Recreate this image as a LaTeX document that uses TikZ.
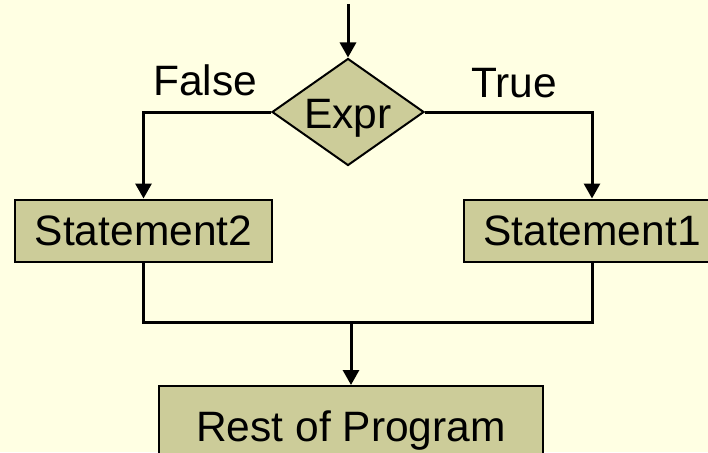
\documentclass[tikz,border=0pt]{standalone}
\usepackage{fontspec}
\setmainfont{Liberation Sans}
\usetikzlibrary{shapes.geometric,arrows.meta}
\definecolor{bgc}{HTML}{FFFFE3}
\definecolor{boxc}{HTML}{CCCC99}
\begin{document}
\begin{tikzpicture}[x=1pt,y=-1pt,
  lbl/.style={font=\fontsize{42.5}{50}\selectfont, text=black},
  procbox/.style={draw=black, line width=2pt, fill=boxc, minimum width=257pt, minimum height=62pt, inner sep=0pt, lbl},
  decbox/.style={diamond, aspect=1.42, draw=black, line width=2pt, fill=boxc, minimum width=152pt, minimum height=107pt, inner sep=0pt, lbl},
  conn/.style={line width=3pt, draw=black},
  arr/.style={conn, -{Triangle[width=16pt,length=15pt]}}]
\fill[bgc] (0,0) rectangle (708,452);
\useasboundingbox (0,0) rectangle (708,452);
\clip (0,0) rectangle (708,452);
\coordinate (start) at (348,4);
\node[decbox, text height=32pt, text depth=0pt] (expr) at (348,112) {Expr};
\node[procbox, text height=29pt, text depth=0pt] (s2) at (143.5,230.5) {Statement2};
\node[procbox, text height=29pt, text depth=0pt] (s1) at (592,230.5) {Statement1};
\node[procbox, minimum width=384pt, minimum height=80pt, text height=30pt, text depth=0pt] (rest) at (351,426) {Rest of Program};
\coordinate (merge) at (351,322);
\node[lbl, anchor=base] (false) at (205,95) {False};
\node[lbl, anchor=base] (true) at (514,97) {True};
\draw[arr] (start) -- (expr.north);
\draw[arr] (expr.west) -| (s2.north);
\draw[arr] (expr.east) -| (s1.north);
\draw[conn] (s2.south) |- (merge) -| (s1.south);
\draw[arr] (merge) -- (rest.north);
\end{tikzpicture}
\end{document}
